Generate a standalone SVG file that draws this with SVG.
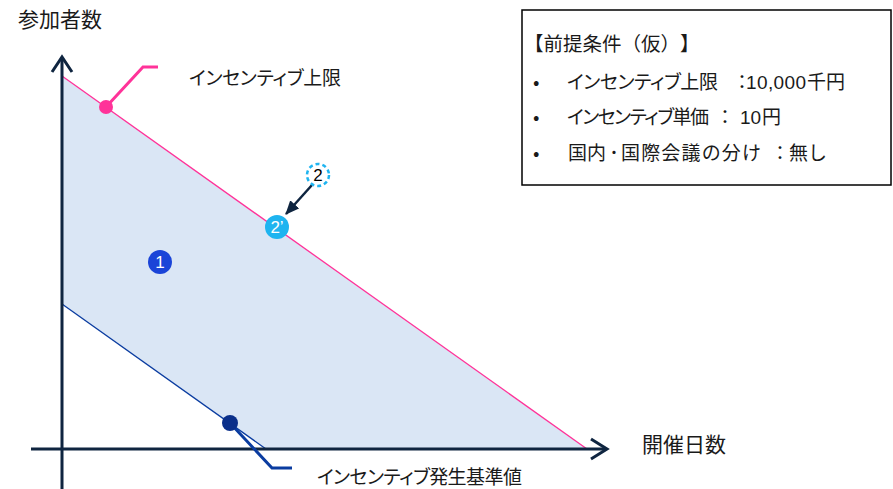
<svg xmlns="http://www.w3.org/2000/svg" width="893" height="489" viewBox="0 0 893 489">
<style>
text{font-family:"Noto Sans CJK JP","Liberation Sans",sans-serif;fill:#1a1a1a;text-spacing-trim:space-all}
.p{font-feature-settings:"palt"}
.lbl{font-size:19px}
.big{font-size:21px}
.box{font-size:19px}
.lat{font-family:"Liberation Sans",Arial,sans-serif;font-size:19px}
.mid{text-anchor:middle}
.axis{stroke:#0f2540;stroke-width:3;fill:none}
.num{font-family:"Liberation Sans",Arial,sans-serif;font-size:17px;text-anchor:middle}
</style>
<defs>
<marker id="ah" markerWidth="14" markerHeight="12" refX="13" refY="6" orient="auto" markerUnits="userSpaceOnUse" viewBox="0 0 14 12">
<path d="M0,0 L14,6 L0,12 Z" fill="#0f2540"/>
</marker>
</defs>
<g id="area">
<polygon points="62,76 587,449 266,449 62,304" fill="#dae6f5"/>
<line x1="62" y1="76" x2="587" y2="449" stroke="#ff3399" stroke-width="1.3"/>
<line x1="62" y1="304" x2="266" y2="449" stroke="#0a3ca0" stroke-width="1.3"/>
</g>
<g id="axes">
<line class="axis" x1="62" y1="58" x2="62" y2="489"/>
<polyline class="axis" points="52,72 62,57 72,72"/>
<line class="axis" x1="31" y1="449" x2="606" y2="449"/>
<polyline class="axis" points="591,439 607,449 591,459"/>
<text class="big" x="18" y="27">参加者数</text>
<text class="big" x="642" y="452">開催日数</text>
</g>
<g id="connectors">
<polyline points="106,107 143,67 158,67" fill="none" stroke="#ff3399" stroke-width="3"/>
<polyline points="230,423 272,468 292,468" fill="none" stroke="#0a3ca0" stroke-width="3"/>
<line x1="312" y1="185" x2="286" y2="214" stroke="#0f2540" stroke-width="2.5" marker-end="url(#ah)"/>
</g>
<g id="upper-limit">
<circle cx="106" cy="107" r="7" fill="#ff3399"/>
<text class="lbl p" x="189" y="85" textLength="152" lengthAdjust="spacing">インセンティブ上限</text>
</g>
<g id="threshold">
<circle cx="230" cy="423" r="8" fill="#0a2f8a"/>
<text class="lbl p" x="317" y="484" textLength="205" lengthAdjust="spacing">インセンティブ発生基準値</text>
</g>
<g id="n1">
<circle cx="160" cy="262" r="12" fill="#1a44d8"/>
<text class="num" x="160" y="268" style="fill:#fff">1</text>
</g>
<g id="n2p">
<circle cx="277" cy="227" r="12" fill="#1eb4f0"/>
<text class="num" x="277" y="233" style="fill:#fff">2’</text>
</g>
<g id="n2">
<circle cx="318" cy="175" r="11" fill="#fff" stroke="#1eb4f0" stroke-width="2.5" stroke-dasharray="4,3"/>
<text class="num" x="318" y="181" style="fill:#000">2</text>
</g>
<g id="conditions">
<rect x="522" y="10" width="369" height="175" fill="#fff" stroke="#000" stroke-width="1.5"/>
<text class="box" x="524" y="51" style="font-size:19.5px">【前提条件（仮）】</text>
<text class="box" x="533" y="89">•</text>
<text class="box p" x="567" y="89" textLength="151" lengthAdjust="spacing">インセンティブ上限</text>
<text class="box p mid" x="742" y="89">：</text>
<text class="lat" x="746" y="89" textLength="60" lengthAdjust="spacing">10,000</text>
<text class="box" x="807" y="89">千円</text>
<text class="box" x="533" y="124">•</text>
<text class="box p" x="567" y="124" textLength="142" lengthAdjust="spacing">インセンティブ単価</text>
<text class="box p mid" x="725" y="124">：</text>
<text class="lat" x="740" y="124">10</text>
<text class="box" x="762" y="124">円</text>
<text class="box" x="533" y="160">•</text>
<text class="box" x="568" y="160">国内</text>
<text class="box mid" x="614" y="160">･</text>
<text class="box" x="621" y="160" textLength="140" lengthAdjust="spacing">国際会議の分け</text>
<text class="box p mid" x="780" y="160">：</text>
<text class="box" x="789" y="160">無し</text>
</g>
</svg>
